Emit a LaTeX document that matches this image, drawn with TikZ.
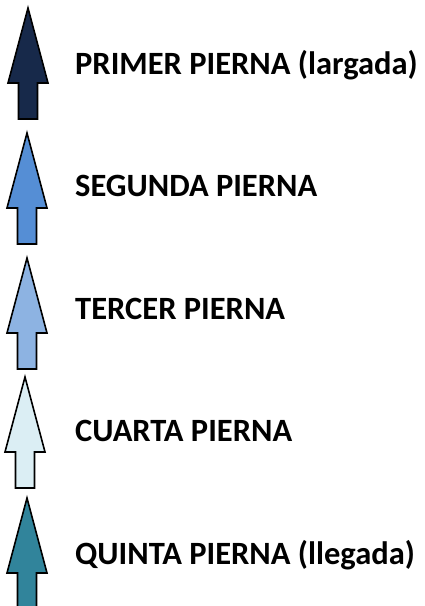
\documentclass[tikz,border=0pt]{standalone}
\usepackage{fontspec}
\setmainfont{Carlito}
\usetikzlibrary{positioning}
\definecolor{piernaA}{HTML}{17294A}
\definecolor{piernaB}{HTML}{558ED5}
\definecolor{piernaC}{HTML}{8DB3E2}
\definecolor{piernaD}{HTML}{DBEEF4}
\definecolor{piernaE}{HTML}{31849B}
\tikzset{
  flecha/.pic={
    \draw[line width=1.6pt,line join=miter,pic actions]
      (0,0) -- (20,75) -- (9.5,75) -- (9.5,111) -- (-9.5,111) -- (-9.5,75) -- (-20,75) -- cycle;
  },
  etiqueta/.style={inner sep=0pt,anchor=base west,font=\fontsize{32.5}{34}\selectfont\bfseries},
}
\begin{document}
\begin{tikzpicture}[x=1pt,y=-1pt]
    \useasboundingbox (0,0) rectangle (425,606);
    \pic[fill=piernaA] at (28,8) {flecha};
    \pic[fill=piernaB] at (27,133) {flecha};
    \pic[fill=piernaC] at (27,258) {flecha};
    \pic[fill=piernaD] at (25,377) {flecha};
    \pic[fill=piernaE] at (27,498) {flecha};
    \node[etiqueta] (p1) at (75,74) {PRIMER PIERNA (largada)};
    \node[etiqueta] (p2) at (75,196.5) {SEGUNDA PIERNA};
    \node[etiqueta] (p3) at (75,319) {TERCER PIERNA};
    \node[etiqueta] (p4) at (75,441.5) {CUARTA PIERNA};
    \node[etiqueta] (p5) at (75,564) {QUINTA PIERNA (llegada)};
  \end{tikzpicture}
\end{document}
